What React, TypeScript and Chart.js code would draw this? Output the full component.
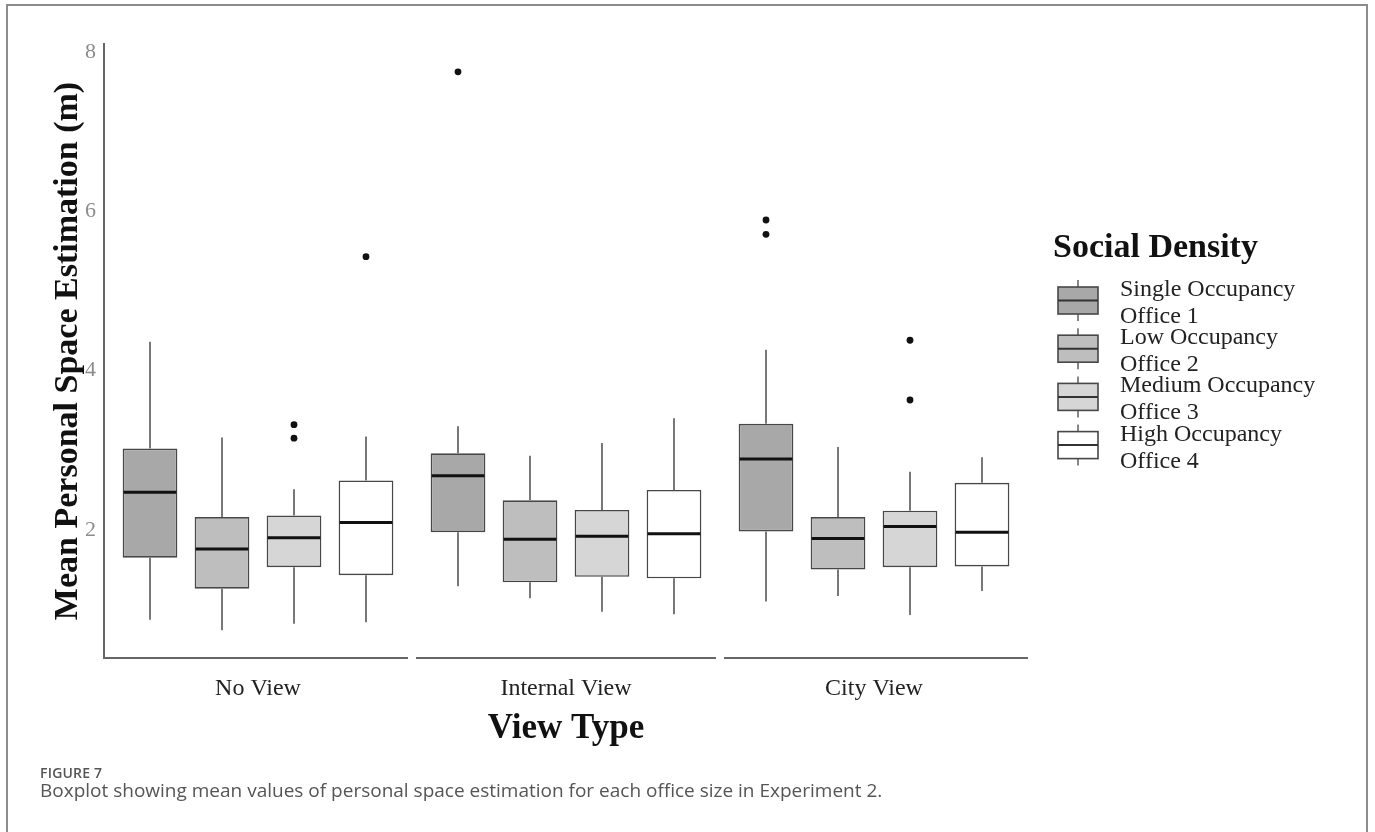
import React, { useEffect, useRef } from 'react';
import { Chart, registerables } from 'chart.js';

Chart.register(...registerables);

// ---- data ----
const categories = ['No View', 'Internal View', 'City View'];
const seriesNames = ['Single Occupancy', 'Low Occupancy', 'Medium Occupancy', 'High Occupancy'];
const seriesSubNames = ['Office 1', 'Office 2', 'Office 3', 'Office 4'];
const seriesColors = ['#a8a8a8', '#bebebe', '#d6d6d6', '#ffffff'];

// [series][category]
const whiskerLow = [
  [0.87, 1.29, 1.1],
  [0.74, 1.14, 1.17],
  [0.82, 0.97, 0.93],
  [0.84, 0.94, 1.23],
];
const q1 = [
  [1.65, 1.97, 1.98],
  [1.26, 1.34, 1.5],
  [1.53, 1.41, 1.53],
  [1.43, 1.39, 1.54],
];
const median = [
  [2.47, 2.68, 2.89],
  [1.76, 1.88, 1.89],
  [1.9, 1.92, 2.04],
  [2.09, 1.95, 1.97],
];
const q3 = [
  [3.02, 2.96, 3.33],
  [2.16, 2.37, 2.16],
  [2.18, 2.25, 2.24],
  [2.62, 2.5, 2.59],
];
const whiskerHigh = [
  [4.36, 3.3, 4.26],
  [3.16, 2.93, 3.04],
  [2.51, 3.09, 2.73],
  [3.17, 3.4, 2.91],
];
const outliers = [
  [[], [7.75], [5.71, 5.89]],
  [[], [], []],
  [[3.15, 3.32], [], [3.63, 4.38]],
  [[5.43], [], []],
];
const yTicks = [2, 4, 6, 8];
const yMin = 0.39;
const yMax = 8.1;

const SERIF = '"Liberation Serif", "Times New Roman", serif';

const boxPlugin = {
  id: 'boxExtras',
  afterDatasetsDraw(chart: any) {
    const ctx = chart.ctx;
    const y = chart.scales.y;
    ctx.save();
    chart.data.datasets.forEach((_ds: any, si: number) => {
      const meta = chart.getDatasetMeta(si);
      meta.data.forEach((el: any, ci: number) => {
        const x = el.x;
        const w = el.width;
        const pLo = y.getPixelForValue(whiskerLow[si][ci]);
        const pQ1 = y.getPixelForValue(q1[si][ci]);
        const pMed = y.getPixelForValue(median[si][ci]);
        const pQ3 = y.getPixelForValue(q3[si][ci]);
        const pHi = y.getPixelForValue(whiskerHigh[si][ci]);
        ctx.strokeStyle = '#6a6a6a';
        ctx.lineWidth = 1.8;
        ctx.beginPath();
        ctx.moveTo(x, pHi);
        ctx.lineTo(x, pQ3);
        ctx.moveTo(x, pQ1);
        ctx.lineTo(x, pLo);
        ctx.stroke();
        ctx.strokeStyle = '#111';
        ctx.lineWidth = 3;
        ctx.beginPath();
        ctx.moveTo(x - w / 2 + 1, pMed);
        ctx.lineTo(x + w / 2 - 1, pMed);
        ctx.stroke();
        ctx.fillStyle = '#111';
        outliers[si][ci].forEach((v: number) => {
          ctx.beginPath();
          ctx.arc(x, y.getPixelForValue(v), 3.4, 0, Math.PI * 2);
          ctx.fill();
        });
      });
    });
    ctx.restore();
  },
  afterDraw(chart: any) {
    const ctx = chart.ctx;
    const xs = chart.scales.x;
    const area = chart.chartArea;
    ctx.save();
    // x axis segments with gaps between categories
    const n = categories.length;
    const cw = (area.right - area.left) / n;
    ctx.strokeStyle = '#666';
    ctx.lineWidth = 2;
    for (let i = 0; i < n; i++) {
      const c = xs.getPixelForValue(i);
      const l = c - cw / 2 + (i > 0 ? 4 : 0);
      const r = c + cw / 2 - (i < n - 1 ? 4 : 0);
      ctx.beginPath();
      ctx.moveTo(l, area.bottom);
      ctx.lineTo(r, area.bottom);
      ctx.stroke();
    }
    // axis titles
    ctx.fillStyle = '#111';
    ctx.font = `bold 34px ${SERIF}`;
    ctx.textAlign = 'center';
    ctx.textBaseline = 'alphabetic';
    ctx.save();
    ctx.translate(77, (area.top + area.bottom) / 2);
    ctx.rotate(-Math.PI / 2);
    ctx.fillText('Mean Personal Space Estimation (m)', 0, 0);
    ctx.restore();
    ctx.font = `bold 35px ${SERIF}`;
    ctx.fillText('View Type', (area.left + area.right) / 2, 738);

    // legend
    ctx.textAlign = 'left';
    ctx.font = `bold 34px ${SERIF}`;
    ctx.fillText('Social Density', 1053, 257);
    ctx.font = `24px ${SERIF}`;
    for (let i = 0; i < seriesNames.length; i++) {
      const cy = 300.5 + 48.2 * i;
      const kx = 1058;
      const kw = 40;
      const kh = 27;
      ctx.strokeStyle = '#6a6a6a';
      ctx.lineWidth = 1.6;
      ctx.beginPath();
      ctx.moveTo(kx + kw / 2, cy - kh / 2 - 7);
      ctx.lineTo(kx + kw / 2, cy - kh / 2);
      ctx.moveTo(kx + kw / 2, cy + kh / 2);
      ctx.lineTo(kx + kw / 2, cy + kh / 2 + 7);
      ctx.stroke();
      ctx.fillStyle = seriesColors[i];
      ctx.fillRect(kx, cy - kh / 2, kw, kh);
      ctx.strokeStyle = '#474747';
      ctx.lineWidth = 1.6;
      ctx.strokeRect(kx, cy - kh / 2, kw, kh);
      ctx.strokeStyle = '#333';
      ctx.lineWidth = 2;
      ctx.beginPath();
      ctx.moveTo(kx, cy);
      ctx.lineTo(kx + kw, cy);
      ctx.stroke();
      ctx.fillStyle = '#222';
      ctx.fillText(seriesNames[i], 1120, cy - 4.5);
      ctx.fillText(seriesSubNames[i], 1120, cy + 22.5);
    }
    ctx.restore();
  },
};

export default function App() {
  const canvasRef = useRef<HTMLCanvasElement | null>(null);

  useEffect(() => {
    const canvas = canvasRef.current;
    if (!canvas) return;
    const chart = new Chart(canvas, {
      type: 'bar',
      data: {
        labels: categories,
        datasets: seriesNames.map((name, si) => ({
          label: name,
          data: q1[si].map((v, ci) => [v, q3[si][ci]]) as any,
          backgroundColor: seriesColors[si],
          borderColor: '#474747',
          borderWidth: 1.6,
          borderSkipped: false,
          categoryPercentage: 0.935,
          barPercentage: 0.76,
        })),
      },
      options: {
        responsive: false,
        animation: false,
        devicePixelRatio: 1,
        layout: { padding: { top: 44, right: 347, left: 0, bottom: 0 } },
        plugins: {
          legend: { display: false },
          tooltip: { enabled: false },
          title: { display: false },
        },
        scales: {
          x: {
            type: 'category',
            grid: { display: false, drawTicks: false },
            border: { display: false },
            ticks: {
              color: '#222',
              font: { family: SERIF, size: 24 },
              padding: 16,
            },
            afterFit: (s: any) => {
              s.height = 174;
            },
          },
          y: {
            type: 'linear',
            min: yMin,
            max: yMax,
            afterBuildTicks: (s: any) => {
              s.ticks = yTicks.map((v) => ({ value: v }));
            },
            afterFit: (s: any) => {
              s.width = 104;
            },
            grid: { display: false, drawTicks: false },
            border: { display: true, color: '#666', width: 2 },
            ticks: {
              color: '#8c8c8c',
              font: { family: SERIF, size: 22 },
              padding: 8,
            },
          },
        },
      },
      plugins: [boxPlugin],
    });
    return () => chart.destroy();
  }, []);

  return (
    <div style={{ position: 'fixed', left: 0, top: 0, width: 1375, height: 832, background: '#fff', overflow: 'hidden' }}>
      <div
        style={{
          position: 'absolute',
          left: 6,
          top: 4,
          width: 1358,
          height: 900,
          borderTop: '2px solid #8c8c8c',
          borderLeft: '2px solid #8c8c8c',
          borderRight: '2px solid #8c8c8c',
        }}
      />
      <canvas ref={canvasRef} width={1375} height={832} style={{ position: 'absolute', left: 0, top: 0, width: 1375, height: 832 }} />
      <div
        style={{
          position: 'absolute',
          left: 40,
          top: 763,
          fontFamily: '"Open Sans", sans-serif',
          fontSize: 14,
          lineHeight: '19px',
          fontWeight: 600,
          color: '#555',
          letterSpacing: 0.2,
        }}
      >
        FIGURE 7
      </div>
      <div
        style={{
          position: 'absolute',
          left: 40,
          top: 777,
          fontFamily: '"Open Sans", sans-serif',
          fontSize: 19,
          color: '#555',
          whiteSpace: 'nowrap',
        }}
      >
        Boxplot showing mean values of personal space estimation for each office size in Experiment 2.
      </div>
    </div>
  );
}
